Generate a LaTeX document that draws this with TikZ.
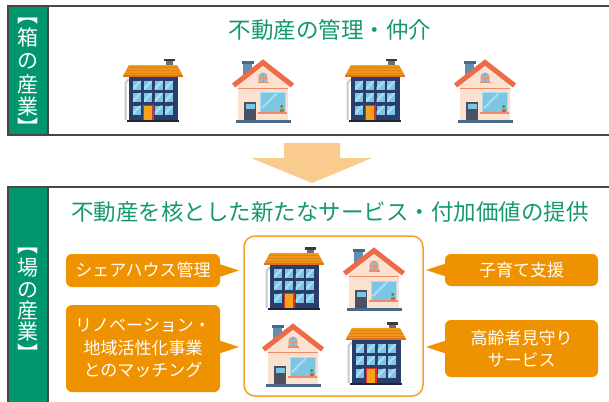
\documentclass[tikz,border=0pt]{standalone}
\usepackage{fontspec}
\newfontfamily\jp{Noto Sans CJK JP}
\usetikzlibrary{decorations.pathmorphing}

\definecolor{bandgreen}{HTML}{00976F}
\definecolor{titlegreen}{HTML}{14996F}
\definecolor{framegray}{HTML}{4A4642}
\definecolor{calloutorange}{HTML}{EF9200}
\definecolor{hubline}{HTML}{F3A22C}
\definecolor{flowarrow}{HTML}{F9CB8E}
% apartment block
\definecolor{aptnavy}{HTML}{2B3D6B}
\definecolor{winblue}{HTML}{7CC6E4}
\definecolor{winlight}{HTML}{A8DDF1}
\definecolor{rooforange}{HTML}{F39C1F}
\definecolor{roofline}{HTML}{DC7812}
\definecolor{roofedge}{HTML}{E0701A}
\definecolor{chimtop}{HTML}{3A3A3A}
\definecolor{chimbody}{HTML}{6E6E6E}
\definecolor{pipegray}{HTML}{C6C9CE}
\definecolor{doororange}{HTML}{F6A21D}
\definecolor{doorred}{HTML}{D9312B}
\definecolor{basedark}{HTML}{1F2533}
% cottage
\definecolor{peach}{HTML}{FBE2D0}
\definecolor{roofred}{HTML}{EF6B47}
\definecolor{trim}{HTML}{F08A68}
\definecolor{chimblue}{HTML}{5F8FB9}
\definecolor{chimcap}{HTML}{49698A}
\definecolor{doorslate}{HTML}{4A5163}
\definecolor{baseslate}{HTML}{4A6A8A}
\definecolor{potbrown}{HTML}{D9652B}
\definecolor{leafgreen}{HTML}{3E8E3A}

% apartment block, top-left corner at #1, about 60 x 63
\newcommand\drawapt[1]{%
\begin{scope}[shift={#1}]
  \draw[pipegray, line width=2, line join=round] (2.5,61) -- (2.5,24) -- (5,21) -- (7,21);
  \fill[aptnavy] (6,18) rectangle (55,61);
  \fill[chimbody] (43,2.5) rectangle (50,6.5);
  \fill[chimtop] (41,0) rectangle (52,2.5);
  \begin{scope}
    \clip (6,6) -- (54,6) -- (60,17) -- (0,17) -- cycle;
    \fill[rooforange] (0,6) rectangle (60,17);
    \foreach \ry in {8.5,11.5,14.5}
      \draw[roofline, line width=0.6, decorate,
            decoration={zigzag, segment length=2.5, amplitude=0.7}] (0,\ry) -- (60,\ry);
  \end{scope}
  \fill[roofedge] (0,16) rectangle (60,18);
  \foreach \wx in {10,21,31.5,42}
    \foreach \wy in {22,34,46.5} {
      \fill[winblue] (\wx,\wy) rectangle ++(8,9);
      \fill[winlight] (\wx,\wy+6) -- (\wx+6,\wy) -- (\wx+8,\wy) -- (\wx+8,\wy+1) -- (\wx+1,\wy+9) -- (\wx,\wy+9) -- cycle;
    }
  \fill[doorred] (19.5,46) rectangle (30.5,61);
  \fill[doororange] (20.7,47.2) rectangle (29.3,61);
  \fill[basedark] (4,61) rectangle (56,63);
\end{scope}}

% gabled cottage, top-left corner at #1, about 60 x 65
\newcommand\drawcottage[1]{%
\begin{scope}[shift={#1}]
  \fill[chimblue] (10,5) rectangle (19,18);
  \fill[chimcap] (8.5,3) rectangle (20.5,6);
  \fill[peach] (5,27) -- (30,6) -- (55,27) -- (55,62) -- (5,62) -- cycle;
  \draw[roofred, line width=5] (0.5,27.5) -- (30,4.5) -- (59.5,27.5);
  % attic window
  \fill[trim] (24.5,24) rectangle (35.5,25.5);
  \filldraw[fill=winblue, draw=trim, line width=0.8]
    (26,24) -- (26,19) arc[start angle=180, end angle=360, radius=4] -- (34,24) -- cycle;
  \draw[trim, line width=0.6] (30,15) -- (30,24) (26,20) -- (34,20);
  % storey trim
  \fill[trim] (5,30) rectangle (55,31.3);
  % front window with sill and plant
  \fill[winlight] (26.5,34.5) rectangle (52.5,54);
  \fill[winblue] (27.5,35.5) rectangle (51.5,53.5);
  \fill[winlight] (27.5,50) -- (42,35.5) -- (45,35.5) -- (30,50.5) -- cycle;
  \fill[trim] (25,53.5) rectangle (54,56);
  \fill[potbrown] (47,50.5) rectangle (50.5,53.5);
  \fill[leafgreen] (48.75,48.5) circle (1.6);
  % door
  \fill[doorslate] (11,44) rectangle (23,62);
  \fill[winblue] (12.5,45.5) rectangle (21.5,50.5);
  \fill[doorred] (21,55) circle (0.5);
  \fill[baseslate] (3,62) rectangle (58,65);
\end{scope}}

\tikzset{
  frame/.style={draw=framegray, line width=1.8},
  vlabel/.style={text=white, font=\jp\fontsize{21}{21}\selectfont, inner sep=0},
  heading/.style={text=titlegreen, font=\jp\fontsize{22.5}{26}\selectfont, inner sep=0},
  callout/.style={fill=calloutorange, rounded corners=6, text=white,
    font=\jp\fontsize{17}{22.5}\selectfont, align=center, inner sep=0,
    minimum width=154},
  hub/.style={draw=hubline, line width=1.5, rounded corners=11, fill=white,
    minimum width=179, minimum height=160, inner sep=0},
}

\begin{document}
\begin{tikzpicture}[x=1pt, y=-1pt]
\useasboundingbox (0,0) rectangle (609,401);
\fill[white] (0,0) rectangle (609,401);

% ---- upper panel: property management
\fill[bandgreen] (8,6) rectangle (48,135);
\draw[frame] (8,6) rectangle (620,135);
\draw[frame] (48,6) -- (48,135);
% vertical label; the closing bracket's ink sits high in its box
\foreach \ch/\yy [count=\i] in {︻/21, 箱/37.5, の/61, 産/85, 業/107, ︼/127}
  \node[vlabel] (boxlab\i) at (28,\yy) {\ch};
\node[heading] (boxtitle) at (330,30) {不動産の管理・仲介};
\drawapt{(123,59)}
\drawcottage{(233,58)}
\drawapt{(345,59)}
\drawcottage{(455,58)}

% ---- transition arrow
\fill[flowarrow] (284,143) -- (340,143) -- (340,158) -- (372,158) -- (312,183)
  -- (251,158) -- (284,158) -- cycle;

% ---- lower panel: services built on property
\fill[bandgreen] (8,187) rectangle (48,420);
\draw[frame] (8,420) -- (8,187) -- (620,187);
\draw[frame] (48,187) -- (48,420);
\foreach \ch/\yy [count=\i] in {︻/251, 場/267.5, の/290, 産/311, 業/332, ︼/353}
  \node[vlabel] (placelab\i) at (28,\yy) {\ch};
\node[heading] (placetitle) at (330,212) {不動産を核とした新たなサービス・付加価値の提供};

\node[hub] (hub) at (333.5,316) {};
\drawapt{(264,247)}
\drawcottage{(344,246)}
\drawcottage{(263,322)}
\drawapt{(346,322)}

\node[callout, minimum height=33] (share) at (143,270.5) {シェアハウス管理};
\node[callout, minimum height=87] (match) at (143,348.5)
  {リノベーション・\\地域活性化事業\\とのマッチング};
\node[callout, minimum width=153, minimum height=32] (kids) at (521.5,270) {子育て支援};
\node[callout, minimum width=153, minimum height=57] (elder) at (521.5,348.5)
  {高齢者見守り\\サービス};

\coordinate (shareTip) at (239,270.5);
\coordinate (matchTip) at (239,347);
\coordinate (kidsTip) at (426,270);
\coordinate (elderTip) at (426,347);
\fill[calloutorange] ([xshift=-1,yshift=6.5]share.east) -- (shareTip) -- ([xshift=-1,yshift=-6.5]share.east) -- cycle;
\fill[calloutorange] ([xshift=-1,yshift=6.5]match.east |- matchTip) -- (matchTip) -- ([xshift=-1,yshift=-6.5]match.east |- matchTip) -- cycle;
\fill[calloutorange] ([xshift=1,yshift=6.5]kids.west) -- (kidsTip) -- ([xshift=1,yshift=-6.5]kids.west) -- cycle;
\fill[calloutorange] ([xshift=1,yshift=6.5]elder.west |- elderTip) -- (elderTip) -- ([xshift=1,yshift=-6.5]elder.west |- elderTip) -- cycle;
\end{tikzpicture}
\end{document}
